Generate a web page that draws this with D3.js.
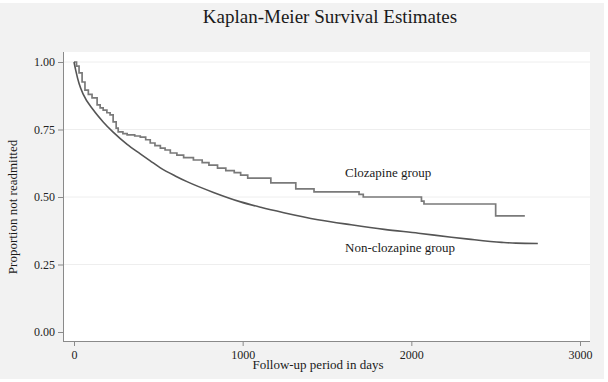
<!DOCTYPE html>
<html>
<head>
<meta charset="utf-8">
<script src="https://cdn.jsdelivr.net/npm/d3@7"></script>
<style>
  body { margin: 0; background: #fff; }
  svg text { font-family: "Liberation Serif", "Times New Roman", serif; fill: #1a1a1a; }
</style>
</head>
<body>
<div id="chart"></div>
<script>
// clozapine group (step function)
let clozTime = [0, 15, 30, 48, 65, 85, 107, 137, 155, 173, 195, 214, 232, 250, 262, 290, 315, 360, 393, 425, 452, 480, 512, 540, 571, 610, 650, 708, 760, 800, 851, 900, 950, 988, 1030, 1167, 1315, 1423, 1690, 1715, 2060, 2075, 2500, 2673];
let clozSurv = [1.0, 0.985, 0.96, 0.926, 0.896, 0.88, 0.867, 0.841, 0.83, 0.822, 0.812, 0.804, 0.778, 0.755, 0.741, 0.735, 0.73, 0.726, 0.722, 0.712, 0.7, 0.69, 0.681, 0.674, 0.663, 0.655, 0.646, 0.637, 0.627, 0.618, 0.607, 0.598, 0.59, 0.581, 0.57, 0.552, 0.53, 0.519, 0.51, 0.5, 0.485, 0.474, 0.43, 0.43];

// non-clozapine group
let nonTime = [0, 10, 30, 55, 115, 173, 232, 315, 393, 452, 512, 600, 673, 827, 988, 1107, 1244, 1446, 1643, 1839, 2042, 2238, 2339, 2536, 2620, 2750];
let nonSurv = [1.0, 0.97, 0.92, 0.88, 0.822, 0.778, 0.74, 0.695, 0.66, 0.634, 0.608, 0.578, 0.556, 0.517, 0.482, 0.462, 0.442, 0.416, 0.397, 0.38, 0.366, 0.351, 0.344, 0.332, 0.329, 0.328];

let xTicks = [0, 1000, 2000, 3000];
let yTicks = [0, 0.25, 0.5, 0.75, 1];

let W = 608, H = 382;
let plot = { left: 63, right: 590, top: 52, bottom: 341 };

let svg = d3.select('#chart')
    .append('svg')
    .attr('width', W)
    .attr('height', H);

svg.append('rect')
    .attr('x', 0).attr('y', 3)
    .attr('width', 604).attr('height', 376)
    .style('fill', '#f2f2f2');

svg.append('rect')
    .attr('x', plot.left).attr('y', plot.top)
    .attr('width', plot.right - plot.left)
    .attr('height', plot.bottom - plot.top)
    .style('fill', '#fff');

let x = d3.scaleLinear().domain([0, 3000]).range([74, 580]);
let y = d3.scaleLinear().domain([0, 1]).range([332, 62]);

// grid lines
svg.selectAll('.grid')
    .data(yTicks.slice(1))
    .enter()
    .append('line')
    .attr('x1', plot.left).attr('x2', plot.right)
    .attr('y1', function (d) { return y(d); })
    .attr('y2', function (d) { return y(d); })
    .style('stroke', '#eeeeee')
    .style('stroke-width', 1);

// axes
let yAxis = svg.append('g')
    .attr('transform', 'translate(' + plot.left + ',0)')
    .call(d3.axisLeft(y).tickValues(yTicks).tickFormat(d3.format('.2f')).tickSize(5).tickPadding(3));
yAxis.select('.domain').attr('d', 'M0.5,' + plot.top + 'V' + plot.bottom);

let xAxis = svg.append('g')
    .attr('transform', 'translate(0,' + plot.bottom + ')')
    .call(d3.axisBottom(x).tickValues(xTicks).tickFormat(d3.format('d')).tickSize(5).tickPadding(4));
xAxis.select('.domain').attr('d', 'M' + plot.left + ',0.5H' + plot.right);

svg.selectAll('.domain, .tick line').style('stroke', '#8a8a8a');
svg.selectAll('.tick text').style('font-size', '12px').style('font-family', '"Liberation Serif", serif').style('fill', '#222');

// curves
let cloz = clozTime.map(function (t, i) { return { t: t, s: clozSurv[i] }; });
let non = nonTime.map(function (t, i) { return { t: t, s: nonSurv[i] }; });

svg.append('path')
    .datum(cloz)
    .attr('d', d3.line().curve(d3.curveStepAfter)
        .x(function (d) { return x(d.t); })
        .y(function (d) { return y(d.s); }))
    .style('fill', 'none')
    .style('stroke', '#7a7a7a')
    .style('stroke-width', 1.7);

svg.append('path')
    .datum(non)
    .attr('d', d3.line().curve(d3.curveMonotoneX)
        .x(function (d) { return x(d.t); })
        .y(function (d) { return y(d.s); }))
    .style('fill', 'none')
    .style('stroke', '#555')
    .style('stroke-width', 1.6);

// labels
svg.append('text')
    .attr('x', 345).attr('y', 177)
    .style('font-size', '13px')
    .text('Clozapine group');

svg.append('text')
    .attr('x', 345).attr('y', 252)
    .style('font-size', '13px')
    .text('Non-clozapine group');

svg.append('text')
    .attr('x', 330).attr('y', 23)
    .attr('text-anchor', 'middle')
    .style('font-size', '19px')
    .text('Kaplan-Meier Survival Estimates');

svg.append('text')
    .attr('transform', 'translate(17,207) rotate(-90)')
    .attr('text-anchor', 'middle')
    .style('font-size', '13px')
    .text('Proportion not readmitted');

svg.append('text')
    .attr('x', 318).attr('y', 369)
    .attr('text-anchor', 'middle')
    .style('font-size', '13px')
    .text('Follow-up period in days');
</script>
</body>
</html>
